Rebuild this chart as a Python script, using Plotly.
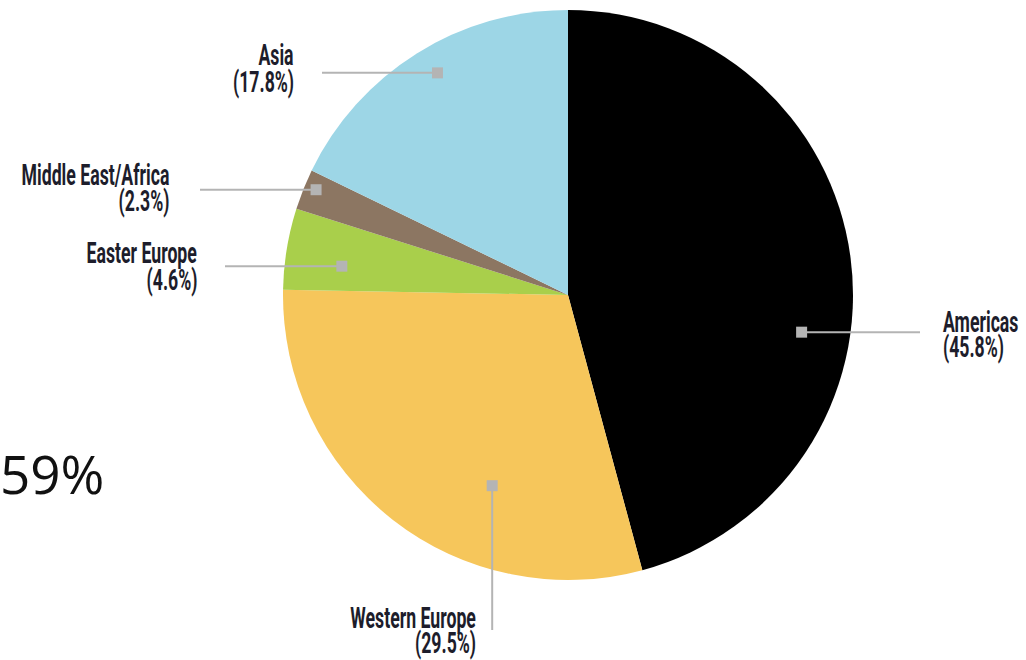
import math
import json
import plotly.graph_objects as go

# ---- data ----
regions = ["Americas", "Western Europe", "Easter Europe", "Middle East/Africa", "Asia"]
shares = [45.8, 29.5, 4.6, 2.3, 17.8]
slice_colors = ["#000000", "#F6C65B", "#A9CF4B", "#8C7662", "#9DD6E6"]
side_note = "59%"

# ---- layout constants (pixels) ----
W, H = 1026, 660
CX, CY, R = 568, 295, 285
# per-label placement: angle offset from slice middle (deg), radius fraction of marker,
# leader line end, text anchor x and the two baselines
label_cfg = {
    "Americas":           dict(dang=16.6, rf=0.83, kind="h", end=920, tx=942, b1=332, b2=357, side="left"),
    "Western Europe":     dict(dang=-16.3, rf=0.72, kind="v", end=630, tx=477, b1=628, b2=653, side="right"),
    "Easter Europe":      dict(dang=-2.1, rf=0.80, kind="h", end=225, tx=198, b1=263, b2=290, side="right"),
    "Middle East/Africa": dict(dang=0.9, rf=0.958, kind="h", end=200, tx=170, b1=185, b2=211, side="right"),
    "Asia":               dict(dang=1.6, rf=0.904, kind="h", end=322, tx=295, b1=65, b2=92, side="right"),
}
LABEL_SIZE = 29
CONDENSE = 0.61
CAP_MID = 10  # baseline -> middle of line box offset

def px(x):
    return x / W

def py(y):
    return 1 - y / H

fig = go.Figure()
fig.add_trace(go.Pie(
    labels=regions, values=shares, sort=False, direction="clockwise", rotation=0,
    marker=dict(colors=slice_colors, line=dict(width=0)),
    textinfo="none", hoverinfo="label+percent", showlegend=False,
    domain=dict(x=[px(CX - R), px(CX + R)], y=[py(CY + R), py(CY - R)]),
))

shapes, annotations, modes = [], [], []
total = sum(shares)
cum = 0.0
label_font = dict(family="Roboto, sans-serif", size=LABEL_SIZE, color="#1d1d2b", weight=700)
for name, val in zip(regions, shares):
    start = cum / total * 360
    cum += val
    end = cum / total * 360
    mid = (start + end) / 2
    cfg = label_cfg[name]
    a = math.radians(mid + cfg["dang"])
    mx = CX + cfg["rf"] * R * math.sin(a)
    my = CY - cfg["rf"] * R * math.cos(a)
    if cfg["kind"] == "h":
        x0, y0, x1, y1 = mx, my, cfg["end"], my
    else:
        x0, y0, x1, y1 = mx, my, mx, cfg["end"]
    shapes.append(dict(type="line", xref="paper", yref="paper",
                       x0=px(x0), y0=py(y0), x1=px(x1), y1=py(y1),
                       line=dict(color="#B4B4B4", width=2)))
    s = 5.5
    shapes.append(dict(type="rect", xref="paper", yref="paper",
                       x0=px(mx - s), x1=px(mx + s), y0=py(my + s), y1=py(my - s),
                       fillcolor="#B4B4B4", line=dict(width=0)))
    for txt, base in ((name, cfg["b1"]), (f"({val:.1f}%)", cfg["b2"])):
        annotations.append(dict(
            x=px(cfg["tx"]), y=py(base - CAP_MID), xref="paper", yref="paper",
            text=txt, showarrow=False, xanchor=cfg["side"], yanchor="middle",
            align=cfg["side"], borderpad=0, font=label_font))
        modes.append(cfg["side"])

annotations.append(dict(x=px(-2), y=py(473), xref="paper", yref="paper", text=side_note,
                        showarrow=False, xanchor="left", yanchor="middle",
                        font=dict(family="Open Sans, Noto Sans, sans-serif", size=53, color="#111111")))
modes.append(None)

fig.update_layout(width=W, height=H, margin=dict(l=0, r=0, t=0, b=0),
                  paper_bgcolor="white", plot_bgcolor="white",
                  shapes=shapes, annotations=annotations)

post = """
document.body.style.margin = '0';
var gd = document.getElementById('{plot_id}');
var modes = MODES;
var S = SCALE;
gd.querySelectorAll('g.annotation').forEach(function(g) {
  var i = parseInt(g.getAttribute('data-index'));
  var m = modes[i];
  if (!m) return;
  var t = g.querySelector('text.annotation-text');
  if (!t) return;
  var bb = t.getBBox();
  var ox = (m === 'right') ? bb.x + bb.width : bb.x;
  var prev = t.getAttribute('transform') || '';
  t.setAttribute('transform', prev + ' translate(' + ox + ',0) scale(' + S + ',1) translate(' + (-ox) + ',0)');
});
""".replace("MODES", json.dumps(modes)).replace("SCALE", str(CONDENSE))

fig.write_html("out.html", post_script=post, config={"displayModeBar": False})
